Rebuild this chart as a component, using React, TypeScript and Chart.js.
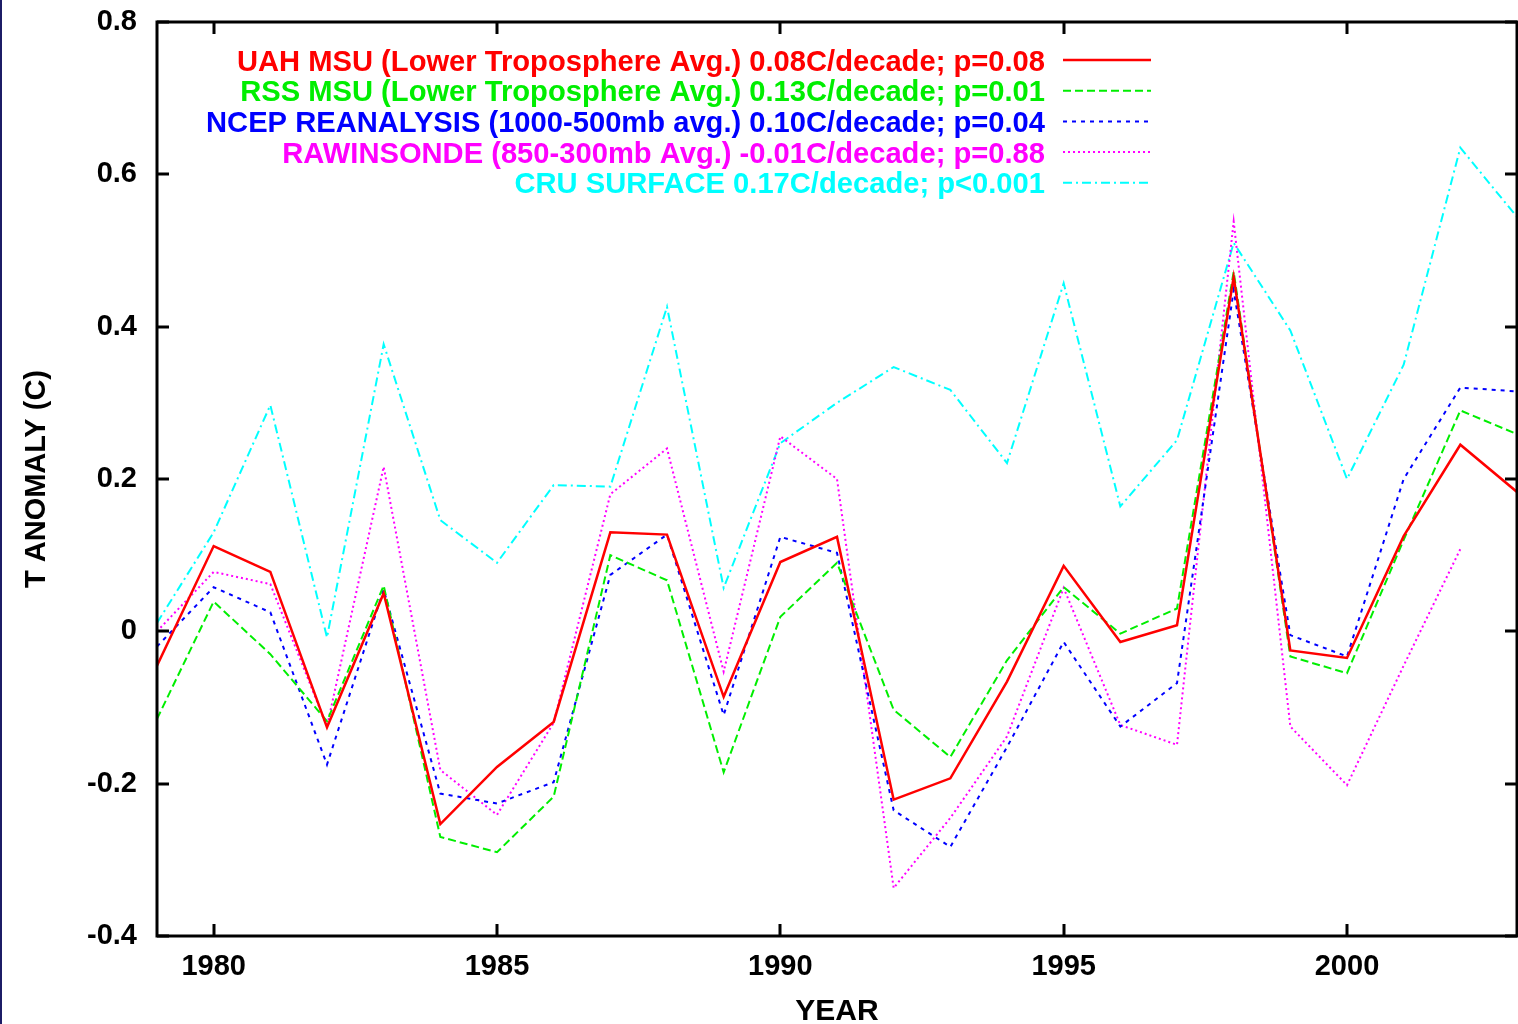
import React, { useEffect, useRef } from "react";
import { Chart, registerables } from "chart.js";

Chart.register(...registerables);

const YEARS = [1979, 1980, 1981, 1982, 1983, 1984, 1985, 1986, 1987, 1988, 1989, 1990, 1991, 1992, 1993, 1994, 1995, 1996, 1997, 1998, 1999, 2000, 2001, 2002, 2003];

const UAH = [-0.045, 0.112, 0.078, -0.126, 0.05, -0.253, -0.178, -0.119, 0.13, 0.127, -0.086, 0.091, 0.124, -0.221, -0.193, -0.066, 0.086, -0.014, 0.008, 0.465, -0.025, -0.035, 0.125, 0.245, 0.183];
const RSS = [-0.115, 0.039, -0.03, -0.118, 0.06, -0.27, -0.29, -0.217, 0.1, 0.067, -0.185, 0.019, 0.09, -0.103, -0.165, -0.038, 0.058, -0.003, 0.03, 0.472, -0.033, -0.055, 0.12, 0.29, 0.259];
const NCEP = [-0.02, 0.058, 0.025, -0.175, 0.055, -0.213, -0.226, -0.198, 0.074, 0.127, -0.11, 0.124, 0.103, -0.235, -0.283, -0.152, -0.014, -0.125, -0.068, 0.448, -0.005, -0.033, 0.2, 0.32, 0.315];
const RAWINSONDE = [0.0, 0.078, 0.062, -0.125, 0.216, -0.182, -0.241, -0.12, 0.18, 0.24, -0.053, 0.256, 0.2, -0.337, -0.245, -0.138, 0.057, -0.123, -0.149, 0.538, -0.125, -0.202, -0.045, 0.108, null];
const CRU = [0.011, 0.13, 0.297, -0.008, 0.377, 0.146, 0.09, 0.192, 0.19, 0.426, 0.057, 0.247, 0.3, 0.347, 0.317, 0.221, 0.457, 0.164, 0.251, 0.51, 0.395, 0.2, 0.35, 0.635, 0.544];

const X_TICKS = [1980, 1985, 1990, 1995, 2000];
const Y_TICKS = [-0.4, -0.2, 0, 0.2, 0.4, 0.6, 0.8];

const SERIES = [
  { label: "UAH MSU (Lower Troposphere Avg.) 0.08C/decade; p=0.08", values: UAH, color: "#ff0000", dash: [] as number[], width: 2.5 },
  { label: "RSS MSU (Lower Troposphere Avg.) 0.13C/decade; p=0.01", values: RSS, color: "#00ee00", dash: [8, 4], width: 2 },
  { label: "NCEP REANALYSIS (1000-500mb avg.) 0.10C/decade; p=0.04", values: NCEP, color: "#0000ff", dash: [4, 5], width: 2 },
  { label: "RAWINSONDE (850-300mb Avg.) -0.01C/decade; p=0.88", values: RAWINSONDE, color: "#ff00ff", dash: [2, 3], width: 2 },
  { label: "CRU SURFACE 0.17C/decade; p<0.001", values: CRU, color: "#00ffff", dash: [9, 4, 2, 4], width: 2 },
];

const FONT = "'Liberation Sans', Arial, Helvetica, sans-serif";

const framePlugin = {
  id: "gnuFrame",
  afterDatasetsDraw(chart: any) {
    const { ctx, chartArea: a, scales } = chart;
    const xs = scales.x;
    const ys = scales.y;
    ctx.save();
    ctx.setLineDash([]);
    ctx.strokeStyle = "#000";
    ctx.lineWidth = 3;
    ctx.strokeRect(a.left, a.top, a.right - a.left, a.bottom - a.top);
    const tl = 12;
    ctx.beginPath();
    X_TICKS.forEach((v) => {
      const px = Math.round(xs.getPixelForValue(v));
      ctx.moveTo(px, a.bottom);
      ctx.lineTo(px, a.bottom - tl);
      ctx.moveTo(px, a.top);
      ctx.lineTo(px, a.top + tl);
    });
    Y_TICKS.forEach((v) => {
      const py = Math.round(ys.getPixelForValue(v));
      ctx.moveTo(a.left, py);
      ctx.lineTo(a.left + tl, py);
      ctx.moveTo(a.right, py);
      ctx.lineTo(a.right - tl, py);
    });
    ctx.stroke();

    // legend
    ctx.font = "bold 30px " + FONT;
    const base = ctx.measureText(SERIES[0].label).width;
    const sx = 808 / base;
    SERIES.forEach((s, i) => {
      const by = 70.5 + i * 30.7;
      ctx.save();
      ctx.translate(1045, by);
      ctx.scale(sx, 1);
      ctx.textAlign = "right";
      ctx.textBaseline = "alphabetic";
      ctx.fillStyle = s.color;
      ctx.fillText(s.label, 0, 0);
      ctx.restore();
      ctx.beginPath();
      ctx.setLineDash(s.dash);
      ctx.lineWidth = s.width;
      ctx.strokeStyle = s.color;
      ctx.moveTo(1063, by - 10.5);
      ctx.lineTo(1151, by - 10.5);
      ctx.stroke();
    });
    ctx.setLineDash([]);

    // axis titles
    ctx.fillStyle = "#000";
    ctx.font = "bold 30px " + FONT;
    ctx.textAlign = "center";
    ctx.textBaseline = "alphabetic";
    ctx.fillText("YEAR", (a.left + a.right) / 2, 1020);
    ctx.save();
    ctx.translate(45, (a.top + a.bottom) / 2);
    ctx.rotate(-Math.PI / 2);
    ctx.font = "bold 29px " + FONT;
    ctx.fillText("T ANOMALY (C)", 0, 0);
    ctx.restore();
    ctx.restore();
  },
};

export default function App() {
  const ref = useRef<HTMLCanvasElement | null>(null);
  useEffect(() => {
    document.body.style.margin = "0";
    const canvas = ref.current;
    if (!canvas) return;
    const datasets = SERIES.map((s) => ({
      label: s.label,
      data: YEARS.map((yr, i) => ({ x: yr, y: s.values[i] })).filter((p) => p.y !== null),
      borderColor: s.color,
      backgroundColor: s.color,
      borderWidth: s.width,
      borderDash: s.dash,
      pointRadius: 0,
      tension: 0,
      fill: false,
    }));
    const noPad = (s: any) => {
      s.paddingTop = 0;
      s.paddingBottom = 0;
      s.paddingLeft = 0;
      s.paddingRight = 0;
    };
    const chart = new Chart(canvas, {
      type: "line",
      data: { datasets },
      plugins: [framePlugin],
      options: {
        animation: false,
        responsive: false,
        maintainAspectRatio: false,
        layout: { padding: { top: 22, right: 1, left: 0, bottom: 0 } },
        plugins: { legend: { display: false }, tooltip: { enabled: false }, title: { display: false } },
        scales: {
          x: {
            type: "linear",
            min: 1979,
            max: 2003,
            grid: { display: false, drawTicks: false },
            border: { display: false },
            afterBuildTicks: (s: any) => {
              s.ticks = X_TICKS.map((v) => ({ value: v }));
            },
            afterFit: (s: any) => {
              s.height = 88;
              noPad(s);
            },
            ticks: {
              autoSkip: false,
              maxRotation: 0,
              padding: 14,
              color: "#000",
              font: { family: FONT, size: 29, weight: "bold" },
              callback: (v: any) => String(v),
            },
          },
          y: {
            type: "linear",
            min: -0.4,
            max: 0.8,
            grid: { display: false, drawTicks: false },
            border: { display: false },
            afterBuildTicks: (s: any) => {
              s.ticks = Y_TICKS.map((v) => ({ value: v }));
            },
            afterFit: (s: any) => {
              s.width = 157;
              noPad(s);
            },
            ticks: {
              padding: 20,
              color: "#000",
              font: { family: FONT, size: 29, weight: "bold" },
              callback: (v: any) => {
                const n = Math.round(Number(v) * 10) / 10;
                return n === 0 ? "0" : String(n);
              },
            },
          },
        },
      },
    } as any);
    return () => chart.destroy();
  }, []);
  return (
    <div style={{ position: "fixed", left: 0, top: 0, width: 1518, height: 1024, background: "#fff", overflow: "hidden" }}>
      <canvas ref={ref} width={1518} height={1024} style={{ display: "block" }} />
      <div style={{ position: "absolute", left: 0, top: 0, width: 2, height: 1024, background: "#1c1c66" }} />
    </div>
  );
}
